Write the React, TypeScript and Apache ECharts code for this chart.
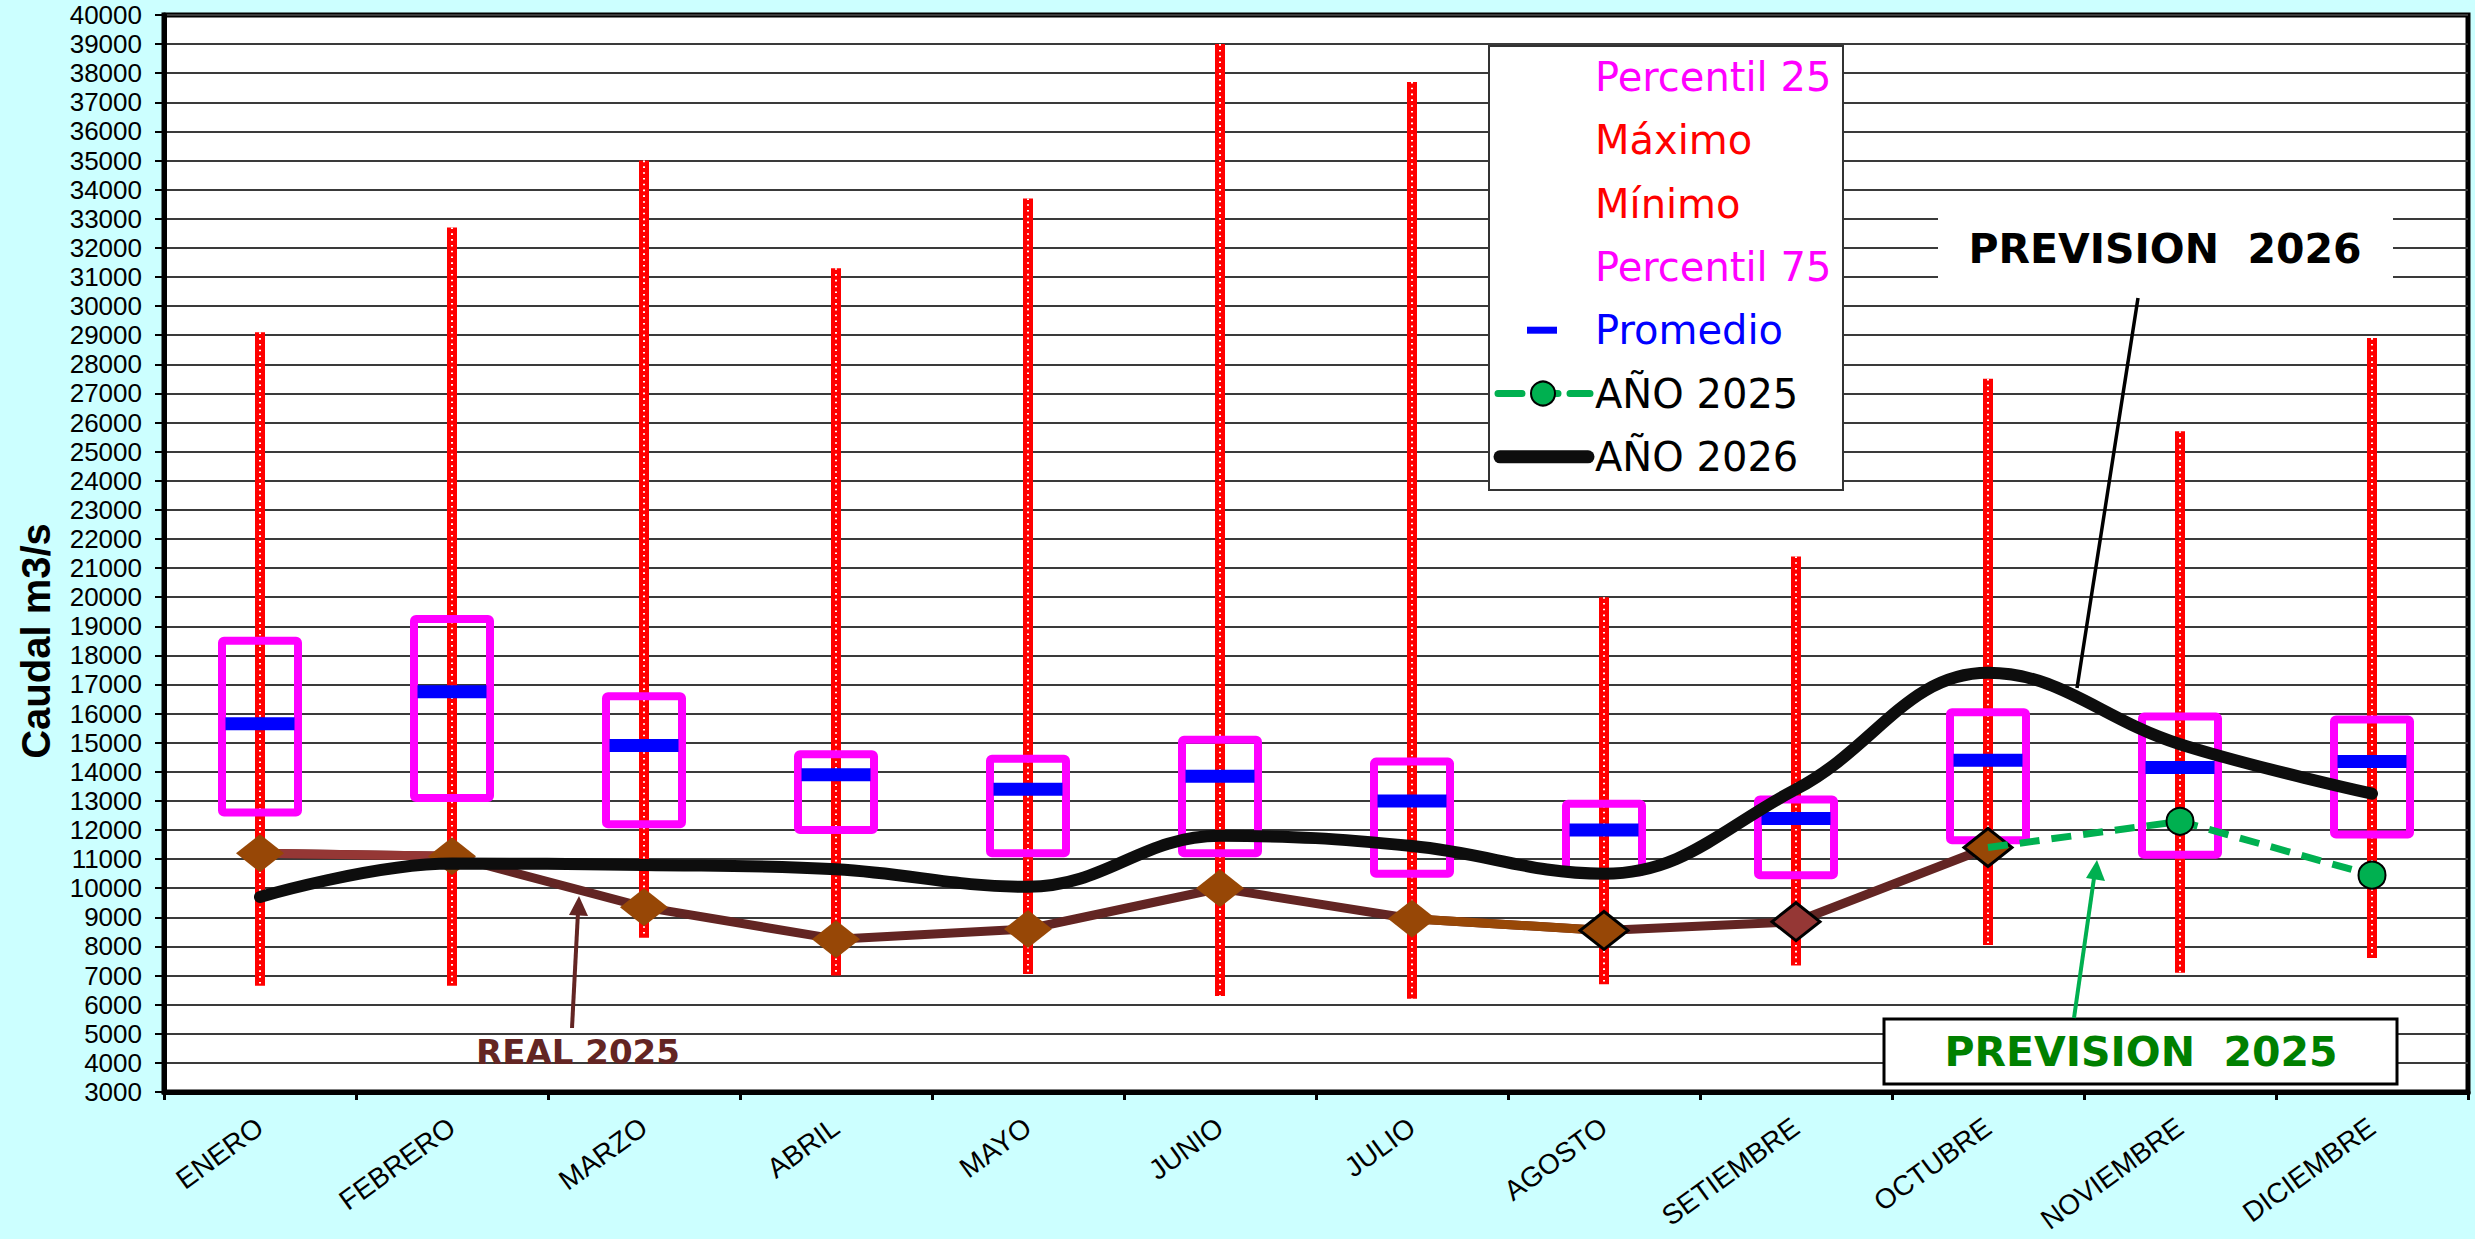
import React, { useEffect, useRef } from 'react';
import * as echarts from 'echarts';

const months = ['ENERO', 'FEBRERO', 'MARZO', 'ABRIL', 'MAYO', 'JUNIO', 'JULIO', 'AGOSTO', 'SETIEMBRE', 'OCTUBRE', 'NOVIEMBRE', 'DICIEMBRE'];
const maximo = [29100, 32700, 35000, 31300, 33700, 39000, 37700, 20000, 21400, 27500, 25700, 28900];
const minimo = [6650, 6650, 8300, 7000, 7050, 6300, 6200, 6700, 7350, 8050, 7100, 7600];
const percentil75 = [18500, 19250, 16600, 14600, 14450, 15100, 14350, 12900, 13050, 16050, 15900, 15800];
const percentil25 = [12600, 13100, 12200, 12000, 11200, 11200, 10500, 10550, 10450, 11650, 11150, 11850];
const promedio = [15650, 16750, 14900, 13900, 13400, 13850, 13000, 12000, 12400, 14400, 14150, 14350];
const real2025: (number | null)[] = [11200, 11100, 9350, 8250, 8600, 10000, 8950, 8550, 8850, 11400, null, null];
const prevision2025: (number | null)[] = [null, null, null, null, null, null, null, null, null, 11400, 12300, 10450];
const anio2026 = [9700, 10850, 10800, 10650, 10050, 11800, 11450, 10500, 13400, 17400, 14950, 13250];

const yTicks = { min: 3000, max: 40000, interval: 1000 };

const legendLabels = ['Percentil 25', 'Máximo', 'Mínimo', 'Percentil 75', 'Promedio', 'AÑO 2025', 'AÑO 2026'];
const legendColors = ['#FF00FF', '#FF0000', '#FF0000', '#FF00FF', '#0000FF', '#000000', '#000000'];

const FONT = "'Liberation Sans', Arial, sans-serif";
const WIDE = "'DejaVu Sans', Verdana, sans-serif";

function renderWhisker(params: any, api: any) {
  const x = api.value(0);
  const top = api.coord([x, api.value(2)]);
  const bot = api.coord([x, api.value(1)]);
  const shape = { x1: top[0], y1: top[1], x2: bot[0], y2: bot[1] };
  return {
    type: 'group',
    children: [
      { type: 'line', shape, style: { stroke: '#FF0000', lineWidth: 10 } },
      { type: 'line', shape, style: { stroke: '#FFFFFF', lineWidth: 2, lineDash: [1.6, 4.2] } },
    ],
  };
}

function renderBox(params: any, api: any) {
  const x = api.value(0);
  const top = api.coord([x, api.value(2)]);
  const bot = api.coord([x, api.value(1)]);
  const w = 76;
  return {
    type: 'rect',
    shape: { x: top[0] - w / 2, y: top[1], width: w, height: bot[1] - top[1], r: 2 },
    style: { fill: 'none', stroke: '#FF00FF', lineWidth: 8 },
  };
}

export default function App() {
  const ref = useRef<HTMLDivElement>(null);
  useEffect(() => {
    if (!ref.current) return;
    const chart = echarts.init(ref.current, null, { renderer: 'svg' });

    const realJanFeb = real2025.map((v, i) => (i <= 1 ? v : null));
    const realJulAgo = real2025.map((v, i) => (i >= 6 && i <= 7 ? v : null));

    const diamondData = real2025.map((v, i) => {
      const bordered = i >= 7 && i <= 9;
      return {
        value: v,
        itemStyle: {
          color: i === 8 ? '#953735' : '#974706',
          borderColor: bordered ? '#000' : 'transparent',
          borderWidth: bordered ? 3 : 0,
        },
      };
    });

    const prevData = prevision2025.map((v, i) => ({
      value: v,
      symbol: i === 9 ? 'none' : 'circle',
    }));

    const legendY0 = 77;
    const legendDy = 63.3;

    const graphic: any[] = [
      {
        type: 'text',
        x: 36,
        y: 641,
        rotation: Math.PI / 2,
        z: 50,
        style: {
          text: 'Caudal m3/s',
          fill: '#000',
          font: `bold 40px ${FONT}`,
          align: 'center',
          verticalAlign: 'middle',
        },
      },
      {
        type: 'rect',
        z: 50,
        shape: { x: 1489, y: 46, width: 354, height: 444 },
        style: { fill: '#FFFFFF', stroke: '#333', lineWidth: 2 },
      },
      ...legendLabels.map((t, i) => ({
        type: 'text',
        z: 51,
        x: 1595,
        y: legendY0 + i * legendDy,
        style: {
          text: t,
          fill: legendColors[i],
          font: `40px ${WIDE}`,
          align: 'left',
          verticalAlign: 'middle',
        },
      })),
      {
        type: 'rect',
        z: 51,
        shape: { x: 1527, y: legendY0 + 4 * legendDy - 3.5, width: 30, height: 7 },
        style: { fill: '#0000FF' },
      },
      {
        type: 'line',
        z: 51,
        shape: { x1: 1498, y1: legendY0 + 5 * legendDy, x2: 1590, y2: legendY0 + 5 * legendDy },
        style: { stroke: '#00B050', lineWidth: 7, lineDash: [24, 12], lineCap: 'round' },
      },
      {
        type: 'circle',
        z: 52,
        shape: { cx: 1543, cy: legendY0 + 5 * legendDy, r: 12 },
        style: { fill: '#00B050', stroke: '#000', lineWidth: 2 },
      },
      {
        type: 'line',
        z: 51,
        shape: { x1: 1500, y1: legendY0 + 6 * legendDy, x2: 1588, y2: legendY0 + 6 * legendDy },
        style: { stroke: '#0D0D0D', lineWidth: 13, lineCap: 'round' },
      },
      {
        type: 'rect',
        z: 50,
        shape: { x: 1938, y: 200, width: 455, height: 95 },
        style: { fill: '#FFFFFF' },
      },
      {
        type: 'text',
        z: 51,
        x: 2165,
        y: 249,
        style: {
          text: 'PREVISION  2026',
          fill: '#000',
          font: `bold 41px ${WIDE}`,
          align: 'center',
          verticalAlign: 'middle',
        },
      },
      {
        type: 'line',
        z: 51,
        shape: { x1: 2138, y1: 298, x2: 2077, y2: 688 },
        style: { stroke: '#000', lineWidth: 3.5 },
      },
      {
        type: 'rect',
        z: 50,
        shape: { x: 1884, y: 1019, width: 513, height: 65 },
        style: { fill: '#FFFFFF', stroke: '#000', lineWidth: 3 },
      },
      {
        type: 'text',
        z: 51,
        x: 2141,
        y: 1052,
        style: {
          text: 'PREVISION  2025',
          fill: '#008000',
          font: `bold 41px ${WIDE}`,
          align: 'center',
          verticalAlign: 'middle',
        },
      },
      {
        type: 'line',
        z: 51,
        shape: { x1: 2074, y1: 1018, x2: 2094, y2: 878 },
        style: { stroke: '#00B050', lineWidth: 4 },
      },
      {
        type: 'polygon',
        z: 51,
        shape: { points: [[2097, 860], [2105, 881], [2086, 878]] },
        style: { fill: '#00B050' },
      },
      {
        type: 'text',
        z: 51,
        x: 578,
        y: 1052,
        style: {
          text: 'REAL 2025',
          fill: '#632523',
          font: `bold 34px ${WIDE}`,
          align: 'center',
          verticalAlign: 'middle',
        },
      },
      {
        type: 'line',
        z: 51,
        shape: { x1: 572, y1: 1028, x2: 578, y2: 912 },
        style: { stroke: '#632523', lineWidth: 4 },
      },
      {
        type: 'polygon',
        z: 51,
        shape: { points: [[579, 896], [588, 916], [569, 915]] },
        style: { fill: '#632523' },
      },
    ];

    const option: any = {
      animation: false,
      backgroundColor: '#CCFFFF',
      grid: {
        left: 164,
        top: 15,
        width: 2304,
        height: 1077,
        containLabel: false,
        outerBoundsMode: 'none',
        show: true,
        backgroundColor: '#FFFFFF',
        borderColor: '#000',
        borderWidth: 5,
      },
      xAxis: {
        type: 'category',
        data: months,
        boundaryGap: true,
        axisLine: { lineStyle: { color: '#000', width: 5 } },
        axisTick: { show: true, interval: 0, alignWithLabel: false, length: 8, lineStyle: { color: '#000', width: 3 } },
        axisLabel: {
          interval: 0,
          rotate: 36,
          margin: 32,
          fontSize: 28,
          color: '#000',
          fontFamily: FONT,
        },
        splitLine: { show: false },
      },
      yAxis: {
        type: 'value',
        min: yTicks.min,
        max: yTicks.max,
        interval: yTicks.interval,
        axisLine: { show: true, lineStyle: { color: '#000', width: 5 } },
        axisTick: { show: true, length: 9, lineStyle: { color: '#000', width: 2 } },
        axisLabel: {
          fontSize: 26,
          color: '#000',
          margin: 22,
          fontFamily: FONT,
          formatter: (v: number) => String(v),
        },
        splitLine: { show: true, lineStyle: { color: '#3a3a3a', width: 2 } },
      },
      series: [
        {
          name: 'Máximo / Mínimo',
          type: 'custom',
          renderItem: renderWhisker,
          encode: { x: 0, y: [1, 2] },
          data: months.map((_, i) => [i, minimo[i], maximo[i]]),
          z: 2,
        },
        {
          name: 'Percentil',
          type: 'custom',
          renderItem: renderBox,
          encode: { x: 0, y: [1, 2] },
          data: months.map((_, i) => [i, percentil25[i], percentil75[i]]),
          z: 3,
        },
        {
          name: 'Promedio',
          type: 'scatter',
          data: promedio,
          symbol: 'rect',
          symbolSize: [69, 13],
          itemStyle: { color: '#0000FF', opacity: 1 },
          z: 4,
        },
        {
          name: 'REAL 2025',
          type: 'line',
          data: real2025,
          symbol: 'none',
          lineStyle: { color: '#632523', width: 9 },
          z: 5,
        },
        {
          name: 'REAL 2025 a',
          type: 'line',
          data: realJanFeb,
          symbol: 'none',
          lineStyle: { color: '#953735', width: 9 },
          z: 5,
        },
        {
          name: 'REAL 2025 b',
          type: 'line',
          data: realJulAgo,
          symbol: 'none',
          lineStyle: { color: '#984807', width: 9 },
          z: 5,
        },
        {
          name: 'REAL 2025 pts',
          type: 'scatter',
          data: diamondData,
          symbol: 'diamond',
          symbolSize: [48, 38],
          itemStyle: { opacity: 1 },
          z: 6,
        },
        {
          name: 'AÑO 2025',
          type: 'line',
          data: prevData,
          symbolSize: 27,
          lineStyle: { color: '#00B050', width: 7, type: [20, 12] },
          itemStyle: { color: '#00B050', borderColor: '#000', borderWidth: 2 },
          z: 7,
        },
        {
          name: 'AÑO 2026',
          type: 'line',
          data: anio2026,
          smooth: 0.4,
          symbol: 'none',
          lineStyle: { color: '#0D0D0D', width: 12, cap: 'round' },
          z: 8,
        },
      ],
      graphic: { elements: graphic },
    };

    chart.setOption(option);
    return () => chart.dispose();
  }, []);

  return <div ref={ref} style={{ position: 'absolute', left: 0, top: 0, width: 2475, height: 1239 }} />;
}
